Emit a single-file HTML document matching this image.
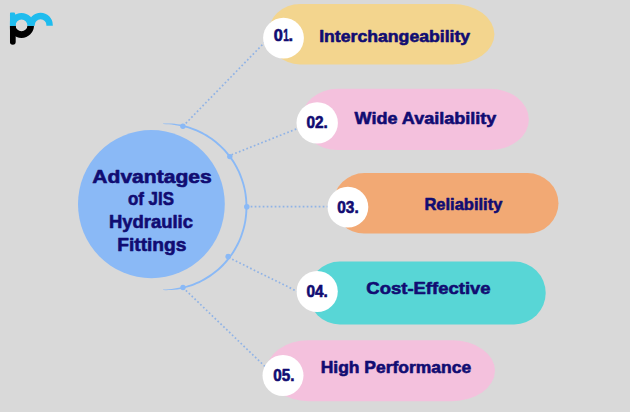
<!DOCTYPE html>
<html lang="en">
<head>
<meta charset="utf-8">
<title>Advantages of JIS Hydraulic Fittings</title>
<style>
  html, body { margin: 0; padding: 0; }
  body { width: 630px; height: 412px; overflow: hidden; background: #d9d9d9; }
  svg { display: block; }
  text { font-family: "Liberation Sans", sans-serif; font-weight: bold; fill: #110c72; stroke: #110c72; stroke-width: 0.6px; stroke-linejoin: round; }
  .ttl { font-size: 18.2px; stroke-width: 0.8px; }
  .lbl { font-size: 16.7px; stroke-width: 0.7px; }
  .num { font-size: 16.3px; }
</style>
</head>
<body>
<svg width="630" height="412" viewBox="0 0 630 412">
  <rect width="630" height="412" fill="#d9d9d9"/>

  <!-- logo -->
  <clipPath id="lgT"><rect x="9.9" y="0" width="60" height="25.7"/></clipPath>
  <clipPath id="lgB"><rect x="9.9" y="25.7" width="60" height="30"/></clipPath>
  <g clip-path="url(#lgB)" fill="none" stroke="#000">
    <circle cx="21.5" cy="25.4" r="9.2" stroke-width="6.6"/>
    <path d="M12.8 20 V41.8" stroke-width="5.8" stroke-linecap="round"/>
  </g>
  <g clip-path="url(#lgT)" fill="none" stroke="#1fbcee">
    <circle cx="21.5" cy="25.4" r="9.2" stroke-width="6.6"/>
    <circle cx="40.6" cy="25" r="9" stroke-width="6.4"/>
    <path d="M12.8 30 V14.4" stroke-width="5.8" stroke-linejoin="round"/>
    <path d="M10.9 13.4 H14 V16 H10.9 Z" stroke-width="2" stroke-linejoin="round" fill="#1fbcee"/>
  </g>

  <!-- pills -->
  <path d="M300 4 H452.4 A42 30.2 0 0 1 452.4 64.4 H300 A32 30.2 0 0 1 300 4 Z" fill="#f3d58e"/>
  <path d="M337.5 88.8 H489.9 A39 30.65 0 0 1 489.9 150.1 H337.5 A36 30.65 0 0 1 337.5 88.8 Z" fill="#f4c1dd"/>
  <path d="M364.3 173.1 H527.5 A31 30.2 0 0 1 527.5 233.5 H364.3 A31 30.2 0 0 1 364.3 173.1 Z" fill="#f2a974"/>
  <path d="M339.75 261.6 H514.25 A31.45 31.45 0 0 1 514.25 324.5 H339.75 A31.45 31.45 0 0 1 339.75 261.6 Z" fill="#58d6d6"/>
  <path d="M308.5 340.2 H452 A43 30.5 0 0 1 452 401.2 H308.5 A42 30.5 0 0 1 308.5 340.2 Z" fill="#f4c1dd"/>

  <!-- connectors -->
  <g fill="none" stroke="#90b3e6" stroke-width="1.7" stroke-dasharray="1.7 2.3">
    <path d="M183 126.2 L264.5 42.5"/>
    <path d="M231.5 154.8 L297 128.7"/>
    <path d="M246.7 206.7 L328 206.7"/>
    <path d="M228.6 257.5 L297.2 291.4"/>
    <path d="M183 287.6 L265.5 367"/>
  </g>

  <!-- arc -->
  <path d="M163.1 123.5 L165.9 123.4 L168.8 123.5 L171.7 123.6 L174.6 123.8 L177.4 124.2 L180.3 124.6 L183.1 125.2 L185.9 125.8 L188.7 126.6 L191.5 127.4 L194.2 128.4 L196.9 129.5 L199.6 130.7 L202.2 132.0 L204.7 133.4 L207.2 134.8 L209.7 136.4 L212.1 138.0 L214.4 139.8 L216.7 141.6 L218.9 143.4 L221.1 145.4 L223.2 147.4 L225.2 149.5 L227.1 151.7 L229.0 154.0 L230.7 156.3 L232.4 158.6 L234.1 161.1 L235.6 163.6 L237.0 166.1 L238.4 168.7 L239.7 171.3 L240.9 174.0 L241.9 176.7 L242.9 179.5 L243.8 182.3 L244.6 185.1 L245.3 187.9 L245.9 190.8 L246.4 193.7 L246.8 196.6 L247.1 199.5 L247.3 202.4 L247.4 205.3 L247.4 208.3 L247.3 211.2 L247.1 214.1 L246.8 217.0 L246.4 219.9 L245.9 222.8 L245.3 225.7 L244.6 228.5 L243.8 231.3 L242.9 234.1 L241.9 236.9 L240.9 239.6 L239.7 242.3 L238.4 244.9 L237.0 247.5 L235.6 250.0 L234.1 252.5 L232.4 255.0 L230.7 257.3 L229.0 259.6 L227.1 261.9 L225.2 264.1 L223.2 266.2 L221.1 268.2 L218.9 270.2 L216.7 272.0 L214.4 273.8 L212.1 275.6 L209.7 277.2 L207.2 278.8 L204.7 280.2 L202.2 281.6 L199.6 282.9 L196.9 284.1 L194.2 285.2 L191.5 286.2 L188.7 287.0 L185.9 287.8 L183.1 288.4 L180.3 289.0 L177.4 289.4 L174.6 289.8 L171.7 290.0 L168.8 290.1 L165.9 290.2 L163.1 290.1 L163.1 289.5 L165.9 289.4 L168.8 289.3 L171.6 289.0 L174.4 288.6 L177.2 288.1 L180.0 287.6 L182.8 286.9 L185.5 286.2 L188.2 285.3 L190.9 284.4 L193.5 283.4 L196.2 282.3 L198.8 281.2 L201.3 279.9 L203.8 278.6 L206.2 277.1 L208.6 275.6 L211.0 274.0 L213.3 272.3 L215.5 270.6 L217.7 268.7 L219.8 266.8 L221.8 264.8 L223.8 262.8 L225.7 260.6 L227.5 258.4 L229.2 256.2 L230.9 253.9 L232.5 251.5 L234.0 249.1 L235.4 246.6 L236.7 244.0 L238.0 241.5 L239.1 238.9 L240.2 236.2 L241.1 233.5 L242.0 230.8 L242.8 228.0 L243.5 225.3 L244.1 222.5 L244.6 219.6 L244.9 216.8 L245.2 214.0 L245.4 211.1 L245.5 208.2 L245.5 205.4 L245.4 202.5 L245.2 199.6 L244.9 196.8 L244.6 194.0 L244.1 191.1 L243.5 188.3 L242.8 185.6 L242.0 182.8 L241.1 180.1 L240.2 177.4 L239.1 174.7 L238.0 172.1 L236.7 169.6 L235.4 167.0 L234.0 164.5 L232.5 162.1 L230.9 159.7 L229.2 157.4 L227.5 155.2 L225.7 153.0 L223.8 150.8 L221.8 148.8 L219.8 146.8 L217.7 144.9 L215.5 143.0 L213.3 141.3 L211.0 139.6 L208.6 138.0 L206.2 136.5 L203.8 135.0 L201.3 133.7 L198.8 132.4 L196.2 131.3 L193.5 130.2 L190.9 129.2 L188.2 128.3 L185.5 127.4 L182.8 126.7 L180.0 126.0 L177.2 125.5 L174.4 125.0 L171.6 124.6 L168.8 124.3 L165.9 124.2 L163.1 124.1Z" fill="#8ab9f6"/>
  <g fill="#8ab9f6">
    <circle cx="182.9" cy="126.3" r="2.7"/>
    <circle cx="229.8" cy="156.6" r="2.7"/>
    <circle cx="246.8" cy="206.7" r="2.8"/>
    <circle cx="228.2" cy="256.6" r="2.8"/>
    <circle cx="183" cy="287.5" r="2.7"/>
  </g>

  <!-- main circle -->
  <ellipse cx="151.4" cy="204.1" rx="73.4" ry="74.1" fill="#8ab9f6"/>

  <!-- number circles -->
  <g fill="#fff">
    <circle cx="283.5" cy="38.1" r="20.4"/>
    <circle cx="317.2" cy="122.9" r="20.7"/>
    <circle cx="347.9" cy="207.1" r="20.4"/>
    <circle cx="317.2" cy="291.5" r="20.6"/>
    <circle cx="283" cy="375.5" r="20.5"/>
  </g>

  <!-- title -->
  <g class="ttl">
    <text x="92.3" y="183" textLength="119.5" lengthAdjust="spacingAndGlyphs">Advantages</text>
    <text x="128" y="205.2" textLength="45.9" lengthAdjust="spacingAndGlyphs">of JIS</text>
    <text x="108.9" y="228.4" textLength="84.1" lengthAdjust="spacingAndGlyphs">Hydraulic</text>
    <text x="117.2" y="251.1" textLength="69.3" lengthAdjust="spacingAndGlyphs">Fittings</text>
  </g>

  <!-- numbers -->
  <g class="num">
    <text y="40.8"><tspan x="273.8">0</tspan><tspan x="283.3" textLength="5.6" lengthAdjust="spacingAndGlyphs">1</tspan><tspan x="288.6">.</tspan></text>
    <text x="306.5" y="127.6" textLength="21.4" lengthAdjust="spacingAndGlyphs">02.</text>
    <text x="337.3" y="212.6" textLength="21.4" lengthAdjust="spacingAndGlyphs">03.</text>
    <text x="306.5" y="296.6" textLength="21.4" lengthAdjust="spacingAndGlyphs">04.</text>
    <text x="273.2" y="380.5" textLength="21.2" lengthAdjust="spacingAndGlyphs">05.</text>
  </g>

  <!-- labels -->
  <g class="lbl">
    <text x="319.2" y="41.9" textLength="151" lengthAdjust="spacingAndGlyphs">Interchangeability</text>
    <text x="354.6" y="123.7" textLength="141.7" lengthAdjust="spacingAndGlyphs">Wide Availability</text>
    <text x="424.4" y="209.5" textLength="78" lengthAdjust="spacingAndGlyphs">Reliability</text>
    <text x="366.3" y="294.1" textLength="124.3" lengthAdjust="spacingAndGlyphs">Cost-Effective</text>
    <text x="320.7" y="373" textLength="150.4" lengthAdjust="spacingAndGlyphs">High Performance</text>
  </g>
</svg>
</body>
</html>
